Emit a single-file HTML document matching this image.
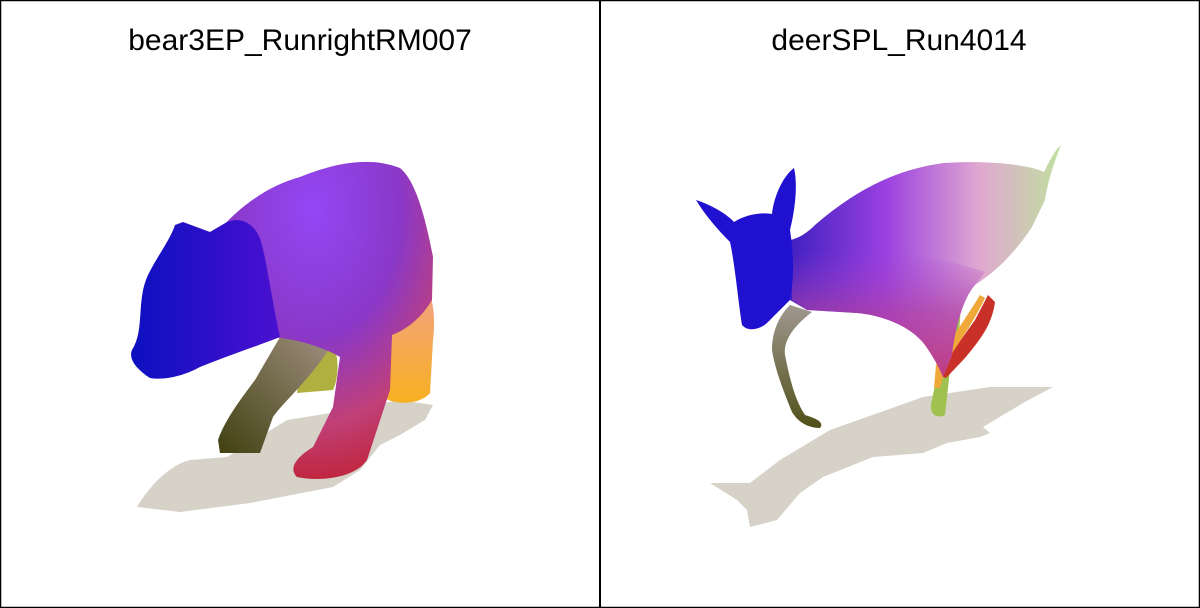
<!DOCTYPE html>
<html><head><meta charset="utf-8"><style>
html,body{margin:0;padding:0;background:#fff}
#root{position:relative;width:1200px;height:608px;overflow:hidden}
.title{position:absolute;top:24px;font-family:"Liberation Sans",sans-serif;font-size:30px;color:#000;white-space:nowrap;transform:translateX(-50%)}
</style></head><body>
<div id="root">
<svg width="1200" height="608" style="position:absolute;left:0;top:0">
<defs>
<radialGradient id="bearBody" cx="0.45" cy="0.15" r="0.9">
<stop offset="0" stop-color="#9447f5"/><stop offset="0.45" stop-color="#8a38c8"/><stop offset="0.75" stop-color="#c04078"/><stop offset="1" stop-color="#c02030"/></radialGradient>
<linearGradient id="bearHead" x1="0" y1="0" x2="1" y2="0">
<stop offset="0" stop-color="#0c10c0"/><stop offset="1" stop-color="#4a10d0"/></linearGradient>
<linearGradient id="greenLeg" x1="1" y1="0" x2="0" y2="1">
<stop offset="0" stop-color="#a09080"/><stop offset="1" stop-color="#404010"/></linearGradient>
<linearGradient id="rearLeg" x1="0" y1="0" x2="0" y2="1">
<stop offset="0" stop-color="#f0a090"/><stop offset="1" stop-color="#f8b020"/></linearGradient>
<linearGradient id="deerBody" x1="0" y1="0" x2="1" y2="0">
<stop offset="0" stop-color="#4020c0"/><stop offset="0.35" stop-color="#9a40e0"/><stop offset="0.7" stop-color="#e0a8d0"/><stop offset="1" stop-color="#c0e0a0"/></linearGradient>
<linearGradient id="deerBelly" x1="0" y1="0" x2="0" y2="1">
<stop offset="0" stop-color="#a040d0" stop-opacity="0"/><stop offset="0.5" stop-color="#b040a0" stop-opacity="0.7"/><stop offset="1" stop-color="#c03c80"/></linearGradient>
<linearGradient id="deerLeg" x1="0" y1="0" x2="0" y2="1">
<stop offset="0" stop-color="#a09890"/><stop offset="1" stop-color="#505018"/></linearGradient>
</defs>
<rect x="0.5" y="0.5" width="1199" height="607" fill="none" stroke="#000" stroke-width="1.5"/>
<line x1="600" y1="0" x2="600" y2="608" stroke="#000" stroke-width="2"/>

<g>
<path d="M137 507 C150 485 170 465 190 460 L227 457 L287 420 L350 410 L400 400 L433 405 L425 420 L400 435 L380 445 L360 470 L333 487 L250 503 L180 512 Z" fill="#d6d2c8"/>
<path d="M297 393 C300 370 310 350 333 343 C340 360 338 380 333 390 Z" fill="#b0b040"/>
<path d="M405 280 C425 265 438 300 433 340 L430 393 C420 405 395 405 385 398 L380 330 Z" fill="url(#rearLeg)"/>
<path d="M280 337 L333 343 C310 380 285 400 273 417 L260 453 L220 453 L218 440 C225 420 240 400 255 380 Z" fill="url(#greenLeg)"/>
<path d="M215 235 C240 205 270 185 300 177 C330 165 367 155 400 168 C415 180 425 215 433 257 L432 300 C420 320 405 330 392 335 L390 390 L367 460 C355 478 320 482 297 477 C290 470 292 460 313 447 L333 407 L340 357 C320 345 290 338 270 337 L230 330 Z" fill="url(#bearBody)"/>
<path d="M175 225 L183 222 L210 232 L227 222 C245 215 258 228 262 245 C268 270 272 300 280 337 C260 345 230 355 200 367 C180 378 160 380 150 378 C138 370 128 360 132 350 C145 330 136 300 148 275 C158 255 170 240 175 225 Z" fill="url(#bearHead)"/>
</g>

<g>
<path d="M710 483 L750 483 L780 460 L830 430 L923 397 L990 387 L1053 387 L1023 403 L983 427 L990 433 L980 437 L947 443 L923 453 L873 457 L823 477 L800 493 L777 520 L750 527 L747 510 L737 500 Z" fill="#d6d2c8"/>
<path d="M790 305 L812 312 C795 325 783 340 785 355 C790 380 795 400 805 415 C815 418 825 422 820 428 C808 428 798 422 792 412 C785 395 775 370 772 350 C772 330 780 315 790 305 Z" fill="url(#deerLeg)"/>
<path d="M955 277 C965 300 960 340 950 370 L945 415 C935 420 928 412 932 400 L940 360 Z" fill="#a0c050"/>
<path d="M988 295 L995 302 C992 325 980 340 965 358 L946 378 L938 375 C950 355 962 338 975 320 Z" fill="#c83028"/>
<path d="M985 298 C975 320 960 340 948 360 L940 388 L934 388 L936 365 C950 340 968 315 980 295 Z" fill="#f0a838"/>
<path d="M790 240 C800 238 808 232 815 225 C850 195 890 170 944 163 C990 160 1030 165 1044 172 C1050 160 1055 150 1061 145 C1055 160 1048 180 1045 200 L1032 227 C1010 260 990 275 975 285 C962 300 955 330 952 355 L943 377 C938 365 932 355 925 345 C910 325 880 315 857 313 L807 310 L790 300 Z" fill="url(#deerBody)"/>
<path d="M792 255 C850 245 920 250 985 272 L975 285 C962 300 955 330 952 355 L943 377 C938 365 932 355 925 345 C910 325 880 315 857 313 L807 310 L792 300 Z" fill="url(#deerBelly)"/>
<path d="M696 200 C712 205 728 215 734 222 C745 215 760 212 772 214 C774 195 784 175 794 168 C798 185 795 210 790 230 C793 250 795 275 790 300 C780 310 772 318 768 322 C760 330 748 332 742 325 C738 300 735 265 730 242 C718 230 705 215 696 200 Z" fill="#2010d0"/>
</g>
</svg>
<div class="title" style="left:300px">bear3EP_RunrightRM007</div>
<div class="title" style="left:899px">deerSPL_Run4014</div>
</div>
</body></html>
